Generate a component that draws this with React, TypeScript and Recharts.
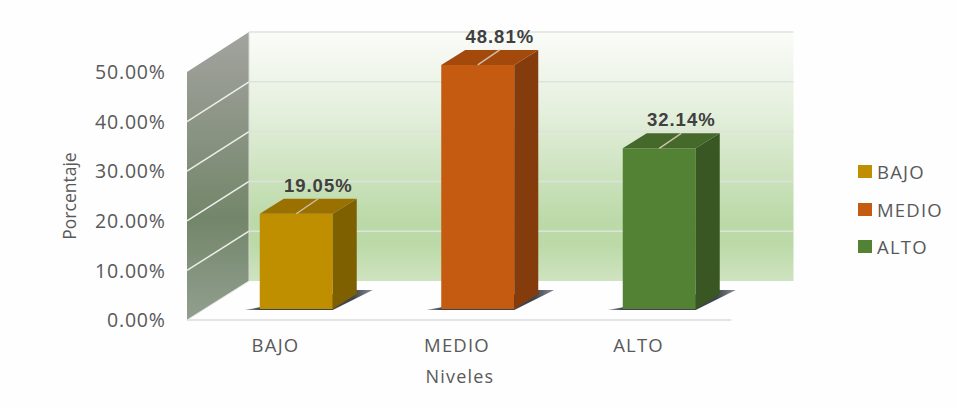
import React from "react";
import { BarChart, Bar, XAxis, YAxis, ReferenceArea, LabelList, Legend } from "recharts";

const categories = ["BAJO", "MEDIO", "ALTO"];
const porcentajes = [19.05, 48.81, 32.14];
const yTicks = [0, 10, 20, 30, 40, 50];
const frontColors = ["#BF8F00", "#C55A11", "#548235"];
const topColors = ["#9A7000", "#A3490C", "#44692B"];
const sideColors = ["#7F6000", "#843C0C", "#385723"];
const tickText = "#595959";
const FONT = "'Open Sans', sans-serif";

const data = categories.map((name, i) => ({ name, value: porcentajes[i], index: i }));

const DX = 24;
const DY = 15;

function Walls(props: any) {
  const { x, y, width, height } = props;
  const bottom = y + height;
  const right = x + width;
  const bx0 = x + 43.25;
  const bx1 = right + 43.25;
  const bTop = y - 27;
  const bBot = bottom - 28;
  const fx0 = x - 18.75;
  const fx1 = right - 19;
  const fTop = y + 13;
  const fBot = bottom + 11;
  const max = yTicks[yTicks.length - 1];
  return (
    <g>
      <defs>
        <linearGradient id="backWall" x1="0" y1="0" x2="0" y2="1">
          <stop offset="0" stopColor="#FBFCF9" />
          <stop offset="0.3" stopColor="#E6F0DF" />
          <stop offset="0.75" stopColor="#BCDAA9" />
          <stop offset="0.85" stopColor="#BBDAA7" />
          <stop offset="1" stopColor="#CFE3C1" />
        </linearGradient>
        <linearGradient id="sideWall" x1="0" y1="0" x2="0" y2="1">
          <stop offset="0" stopColor="#A3A39F" />
          <stop offset="0.65" stopColor="#73866A" />
          <stop offset="1" stopColor="#929F8F" />
        </linearGradient>
      </defs>
      <rect x={bx0} y={bTop} width={bx1 - bx0} height={bBot - bTop} fill="url(#backWall)" />
      <polygon
        points={`${fx0},${fTop} ${bx0},${bTop} ${bx0},${bBot} ${fx0},${fBot}`}
        fill="url(#sideWall)"
      />
      {yTicks.map((t) => {
        const f = t / max;
        const by = bBot - f * (bBot - bTop);
        const fy = fBot - f * (fBot - fTop);
        return (
          <g key={t}>
            {t > 0 && <line x1={bx0} x2={bx1} y1={by} y2={by} stroke="#DDE3DA" strokeWidth={1.5} />}
            {t > 0 && t < max && <line x1={fx0} x2={bx0} y1={fy} y2={by} stroke="#EDF0EA" strokeWidth={1.5} />}
          </g>
        );
      })}
      <line x1={bx0} x2={bx0} y1={bTop} y2={bBot} stroke="#D6DAD3" strokeWidth={1} />
      <line x1={fx0} x2={bx0} y1={fBot} y2={bBot} stroke="#E2E4E0" strokeWidth={1} />
      <line x1={fx0} x2={fx1} y1={fBot} y2={fBot} stroke="#D9DBDE" strokeWidth={1.5} />
    </g>
  );
}

function Bar3D(props: any) {
  const { x, y, width, height, index } = props;
  const right = x + width;
  const bottom = y + height;
  const gid = `shadow${index}`;
  const cx = x + width / 2;
  return (
    <g>
      <defs>
        <linearGradient id={gid} x1="0" y1="0" x2="1" y2="0">
          <stop offset="0" stopColor="#50555E" stopOpacity={0.6} />
          <stop offset="0.12" stopColor="#3F444D" />
          <stop offset="0.85" stopColor="#3F444D" />
          <stop offset="1" stopColor="#6A6F78" stopOpacity={0.8} />
        </linearGradient>
      </defs>
      <polygon
        points={`${x - 15},${bottom + 1} ${right},${bottom + 1} ${right + 40},${bottom - 19} ${right + 24},${bottom - 19}`}
        fill={`url(#${gid})`}
      />
      <rect x={x} y={y} width={width} height={height} fill={frontColors[index]} />
      <polygon
        points={`${right},${y} ${right + DX},${y - DY} ${right + DX},${bottom - DY} ${right},${bottom}`}
        fill={sideColors[index]}
      />
      <polygon
        points={`${x},${y} ${x + DX},${y - DY} ${right + DX},${y - DY} ${right},${y}`}
        fill={topColors[index]}
      />
      <line x1={cx} y1={y} x2={cx + 22} y2={y - 15} stroke="#CDBFA8" strokeWidth={1.5} />
    </g>
  );
}

function ValueLabel(props: any) {
  const { x, y, width, value } = props;
  return (
    <text
      x={x + width / 2 + 22}
      y={y - 27}
      textAnchor="middle"
      dominantBaseline="middle"
      fontFamily="'Liberation Sans', Arial, sans-serif"
      fontWeight={700}
      fontSize={18.5}
      letterSpacing={1}
      fill="#404040"
    >
      {`${Number(value).toFixed(2)}%`}
    </text>
  );
}

function YTick(props: any) {
  const { x, y, payload } = props;
  return (
    <text
      x={x - 32}
      y={y + 13 + payload.value * 0.04}
      textAnchor="end"
      dominantBaseline="middle"
      fontFamily={FONT}
      fontSize={19.5}
      letterSpacing={0.8}
      fill={tickText}
    >
      {`${payload.value.toFixed(2)}%`}
    </text>
  );
}

function XTick(props: any) {
  const { x, y, payload } = props;
  return (
    <text
      x={x - 21}
      y={y + 30}
      textAnchor="middle"
      dominantBaseline="middle"
      fontFamily={FONT}
      fontSize={18.5}
      letterSpacing={1.2}
      fill={tickText}
    >
      {payload.value}
    </text>
  );
}

function LegendBox() {
  return (
    <div style={{ fontFamily: FONT, fontSize: 18.5, letterSpacing: 1.2, color: tickText }}>
      {categories.map((c, i) => (
        <div key={c} style={{ display: "flex", alignItems: "center", height: 37.5 }}>
          <span style={{ width: 14, height: 13, background: frontColors[i], marginRight: 5, display: "inline-block" }} />
          <span>{c}</span>
        </div>
      ))}
    </div>
  );
}

function AxisTitleY() {
  const cx = 71;
  const cy = 196;
  return (
    <text
      x={cx}
      y={cy}
      transform={`rotate(-90 ${cx} ${cy})`}
      textAnchor="middle"
      dominantBaseline="middle"
      fontFamily={FONT}
      fontSize={17.5}
      fill={tickText}
    >
      Porcentaje
    </text>
  );
}

function AxisTitleX() {
  return (
    <text
      x={460}
      y={378}
      textAnchor="middle"
      dominantBaseline="middle"
      fontFamily={FONT}
      fontSize={18}
      letterSpacing={1.2}
      fill={tickText}
    >
      Niveles
    </text>
  );
}

export default function App() {
  return (
    <div style={{ position: "absolute", left: 0, top: 0, width: 957, height: 408, background: "#FEFEFE" }}>
      <BarChart
        width={957}
        height={408}
        data={data}
        margin={{ top: 59, right: 206.75, bottom: 49, left: 145.75 }}
        barSize={73}
      >
        <XAxis
          dataKey="name"
          height={50}
          axisLine={false}
          tickLine={false}
          tick={XTick}
          label={<AxisTitleX />}
        />
        <YAxis
          width={60}
          domain={[0, 50]}
          ticks={yTicks}
          axisLine={false}
          tickLine={false}
          tick={YTick}
          label={<AxisTitleY />}
        />
        <ReferenceArea y1={0} y2={50} ifOverflow="visible" shape={Walls} />
        <Legend
          layout="horizontal"
          verticalAlign="middle"
          align="center"
          content={LegendBox}
          wrapperStyle={{ position: "absolute", left: 858, top: 153, width: 99, height: 113 }}
        />
        <Bar dataKey="value" isAnimationActive={false} shape={Bar3D}>
          <LabelList dataKey="value" content={ValueLabel} />
        </Bar>
      </BarChart>
    </div>
  );
}
